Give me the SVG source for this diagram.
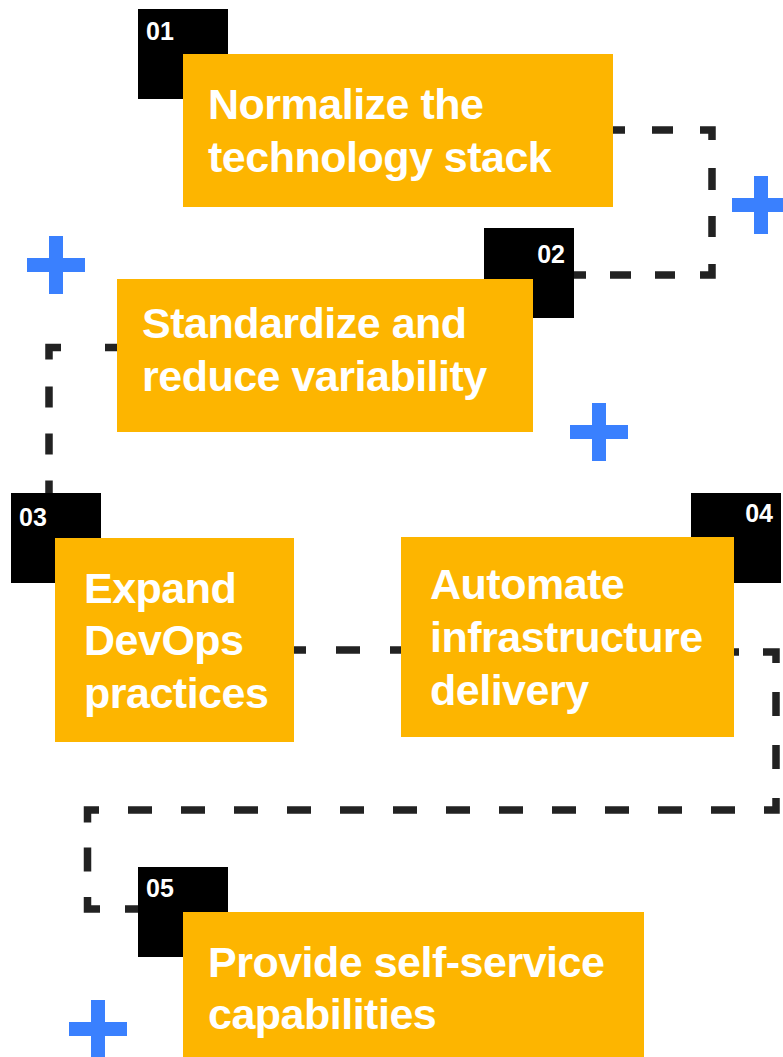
<svg xmlns="http://www.w3.org/2000/svg" width="783" height="1057" viewBox="0 0 783 1057">
<style>
.bg{fill:#ffffff}
.num{fill:#000000}
.box{fill:#FDB500}
.lbl{font-family:"Liberation Sans",Arial,sans-serif;font-weight:700;font-size:43px;letter-spacing:-0.5px;fill:#ffffff}
.idx{font-family:"Liberation Sans",Arial,sans-serif;font-weight:700;font-size:25px;fill:#ffffff}
.con{fill:none;stroke:#222222;stroke-width:7.5;stroke-linecap:butt;stroke-linejoin:miter}
.plus{fill:#3A80FE}
</style>
<rect class="bg" x="0" y="0" width="783" height="1057"/>
<g id="decor">
<path class="plus" d="M49 236h14v22h22v14h-22v22h-14v-22h-22v-14h22z"/>
<path class="plus" d="M592 403h14v22h22v14h-22v22h-14v-22h-22v-14h22z"/>
<path class="plus" d="M754 176h14v22h22v14h-22v22h-14v-22h-22v-14h22z"/>
<path class="plus" d="M91 1000h14v22h22v14h-22v22h-14v-22h-22v-14h22z"/>
</g>
<g id="connectors">
<path class="con" d="M613 130H712V275H573" stroke-dasharray="12 27 21 27 22 28 22 26 21 27 23 25 20 24 21 24 12 50"/>
<path class="con" d="M117 347.5H49V493" stroke-dasharray="12 44 24 27 21 26 21 26 20 50"/>
<path class="con" d="M294 650H401" stroke-dasharray="12 30 24 30 12 50"/>
<path class="con" d="M734 652H776V810H87.5V909H138" stroke-dasharray="5 24 24 29 24 29 24 29 24 29 24 29 24 29 24 29 24 29 24 29 24 29 24 29 24 29 24 29 24 29 24 29 24 29 24 25 24 25.5 24.5 25 20 100"/>
</g>
<g id="node01">
<rect class="num" x="138" y="9" width="90" height="90"/>
<text class="idx" x="146" y="40">01</text>
<rect class="box" x="183" y="54" width="430" height="153"/>
<text class="lbl" x="208" y="119">Normalize the</text>
<text class="lbl" x="208" y="171.5">technology stack</text>
</g>
<g id="node02">
<rect class="num" x="484" y="228" width="90" height="90"/>
<text class="idx" x="565" y="263" text-anchor="end">02</text>
<rect class="box" x="117" y="279" width="416" height="153"/>
<text class="lbl" x="142" y="338">Standardize and</text>
<text class="lbl" x="142" y="390.5">reduce variability</text>
</g>
<g id="node03">
<rect class="num" x="11" y="493" width="90" height="90"/>
<text class="idx" x="19" y="525.5">03</text>
<rect class="box" x="55" y="538" width="239" height="204"/>
<text class="lbl" x="84" y="602.5">Expand</text>
<text class="lbl" x="84" y="655">DevOps</text>
<text class="lbl" x="84" y="707.5">practices</text>
</g>
<g id="node04">
<rect class="num" x="691" y="493" width="90" height="90"/>
<text class="idx" x="773" y="522" text-anchor="end">04</text>
<rect class="box" x="401" y="537" width="333" height="200"/>
<text class="lbl" x="430" y="599">Automate</text>
<text class="lbl" x="430" y="652">infrastructure</text>
<text class="lbl" x="430" y="705">delivery</text>
</g>
<g id="node05">
<rect class="num" x="138" y="867" width="90" height="90"/>
<text class="idx" x="146" y="896.5">05</text>
<rect class="box" x="183" y="912" width="461" height="150"/>
<text class="lbl" x="208" y="976.5">Provide self-service</text>
<text class="lbl" x="208" y="1029">capabilities</text>
</g>
</svg>
